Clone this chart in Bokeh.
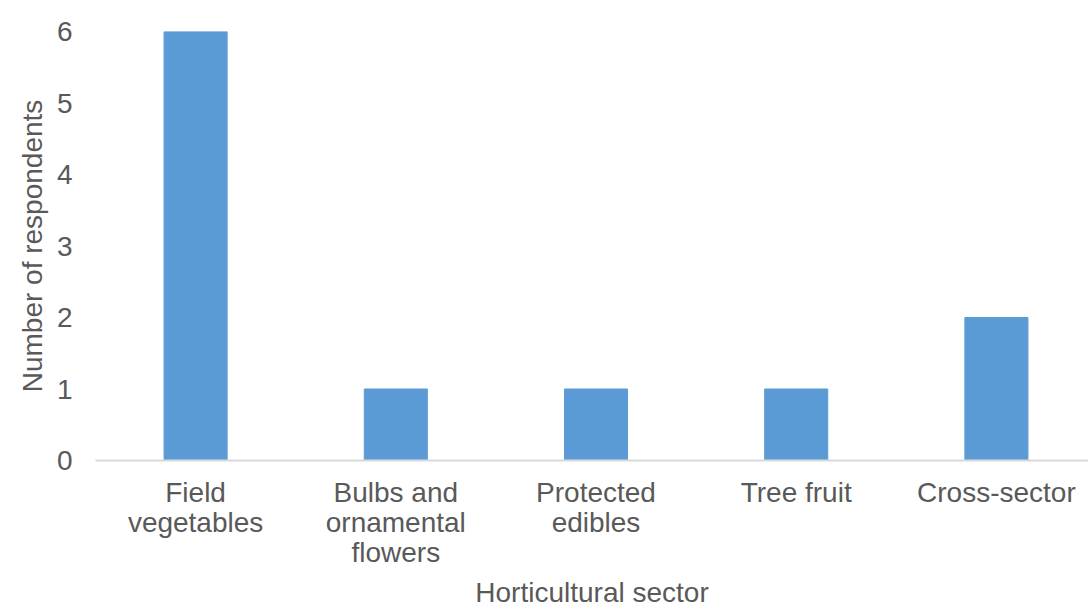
from bokeh.plotting import figure
from bokeh.models import Range1d, FixedTicker, LinearAxis
from bokeh.embed import file_html
from bokeh.resources import INLINE

categories = ["Field vegetables", "Bulbs and ornamental flowers", "Protected edibles", "Tree fruit", "Cross-sector"]
label_line1 = ["Field", "Bulbs and", "Protected", "Tree fruit", "Cross-sector"]
label_line2 = ["vegetables", "ornamental", "edibles", " ", " "]
label_line3 = [" ", "flowers", " ", " ", " "]
respondents = [6, 1, 1, 1, 2]
y_ticks = [0, 1, 2, 3, 4, 5, 6]

positions = list(range(len(categories)))

FONT = "Liberation Sans"
TXT = "#595959"
FS = "28px"

p = figure(x_range=Range1d(-0.5, 4.46), y_range=Range1d(0, 6), width=1088, height=610,
           output_backend="svg", toolbar_location=None, x_axis_type=None,
           min_border_top=31, min_border_right=0, min_border_bottom=0, min_border_left=95)
p.outline_line_color = None
p.xgrid.grid_line_color = None
p.ygrid.grid_line_color = None
p.background_fill_color = "white"
p.border_fill_color = "white"

p.vbar(x=positions, top=respondents, width=0.315, color="#5B9BD5", line_color="#5B9BD5")

# y axis
p.yaxis.ticker = FixedTicker(ticks=y_ticks)
p.yaxis.axis_line_color = None
p.yaxis.major_tick_line_color = None
p.yaxis.minor_tick_line_color = None
p.yaxis.major_label_standoff = 17
p.yaxis.major_label_text_font = FONT
p.yaxis.major_label_text_font_size = FS
p.yaxis.major_label_text_color = TXT
p.yaxis.axis_label = "Number of respondents"
p.yaxis.axis_label_text_font = FONT
p.yaxis.axis_label_text_font_size = FS
p.yaxis.axis_label_text_font_style = "normal"
p.yaxis.axis_label_text_color = TXT
p.yaxis.axis_label_standoff = 6


def make_x(lines, standoff, line_color=None):
    ax = LinearAxis(ticker=FixedTicker(ticks=positions))
    ax.major_tick_line_color = None
    ax.minor_tick_line_color = None
    ax.major_label_overrides = {i: t for i, t in zip(positions, lines)}
    ax.major_label_standoff = standoff
    ax.major_label_text_font = FONT
    ax.major_label_text_font_size = FS
    ax.major_label_text_color = TXT
    ax.axis_line_color = line_color
    ax.axis_line_width = 2
    return ax


# category labels: one axis per text line; the first carries the axis line
xa1 = make_x(label_line1, 10, "#D9D9D9")
xa2 = make_x(label_line2, -10)
xa3 = make_x(label_line3, -10)
xa3.axis_label = "Horticultural sector"
xa3.axis_label_text_font = FONT
xa3.axis_label_text_font_size = FS
xa3.axis_label_text_font_style = "normal"
xa3.axis_label_text_color = TXT
xa3.axis_label_standoff = 6
p.add_layout(xa1, "below")
p.add_layout(xa2, "below")
p.add_layout(xa3, "below")

open("out.html", "w").write(file_html(p, INLINE))
